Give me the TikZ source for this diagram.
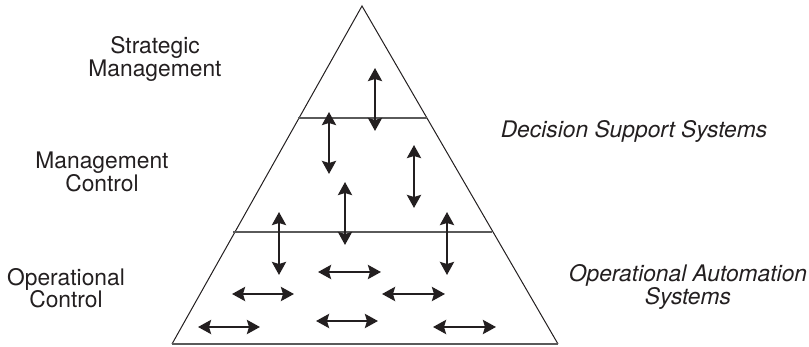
\documentclass[tikz,border=0pt]{standalone}
\usepackage{fontspec}
\setmainfont{TeX Gyre Heros}
\usetikzlibrary{arrows.meta}
\definecolor{ink}{HTML}{231F20}
\definecolor{rule}{HTML}{5A5A5A}
\begin{document}
\begin{tikzpicture}[x=1pt,y=-1pt,
  label/.style={align=center,inner sep=0pt,text=ink,font=\fontsize{22.8}{22.5}\selectfont},
  syslabel/.style={label,font=\fontsize{22.8}{21.5}\selectfont\itshape},
  side/.style={draw=ink,line width=1pt,line join=miter},
  divider/.style={draw=rule,line width=1.5pt},
  flow/.style={draw=ink,line width=2.6pt,{Stealth[length=13pt,width=14pt,inset=2pt]}-{Stealth[length=13pt,width=14pt,inset=2pt]}}]
\useasboundingbox (0,0) rectangle (809,347);

% pyramid outline and level dividers
\coordinate (apex) at (362,6);
\coordinate (bl) at (172,344);
\coordinate (br) at (558,344);
\coordinate (d1l) at (298,118);
\coordinate (d1r) at (427,118);
\coordinate (d2l) at (233,232);
\coordinate (d2r) at (492,232);
\draw[side] (bl) -- (apex) -- (br);
\draw[divider] (bl) -- (br);
\draw[divider] (d1l) -- (d1r);
\draw[divider] (d2l) -- (d2r);

% level names
\node[label] (strat) at (155,59) {Strategic\\Management};
\node[label] (mgmt) at (102,172) {Management\\Control};
\node[label] (oper) at (66,288) {Operational\\Control};

% system names
\node[syslabel] (dss) at (634,131) {Decision Support Systems};
\node[syslabel] (oas) at (688,287) {Operational Automation\\Systems};

% vertical information flows
\coordinate (v1a) at (375,68);  \coordinate (v1b) at (375,131);
\coordinate (v2a) at (329,112); \coordinate (v2b) at (329,174);
\coordinate (v3a) at (414,145); \coordinate (v3b) at (414,208);
\coordinate (v4a) at (345,182); \coordinate (v4b) at (345,245);
\coordinate (v5a) at (279,212); \coordinate (v5b) at (279,275);
\coordinate (v6a) at (447,212); \coordinate (v6b) at (447,275);
\foreach \i in {1,...,6} \draw[flow] (v\i a) -- (v\i b);

% horizontal information flows
\coordinate (h1a) at (318,272); \coordinate (h1b) at (381,272);
\coordinate (h2a) at (232,294); \coordinate (h2b) at (294,294);
\coordinate (h3a) at (382,294); \coordinate (h3b) at (445,294);
\coordinate (h4a) at (198,327); \coordinate (h4b) at (260,327);
\coordinate (h5a) at (316,321); \coordinate (h5b) at (378,321);
\coordinate (h6a) at (433,327); \coordinate (h6b) at (496,327);
\foreach \i in {1,...,6} \draw[flow] (h\i a) -- (h\i b);
\end{tikzpicture}
\end{document}
